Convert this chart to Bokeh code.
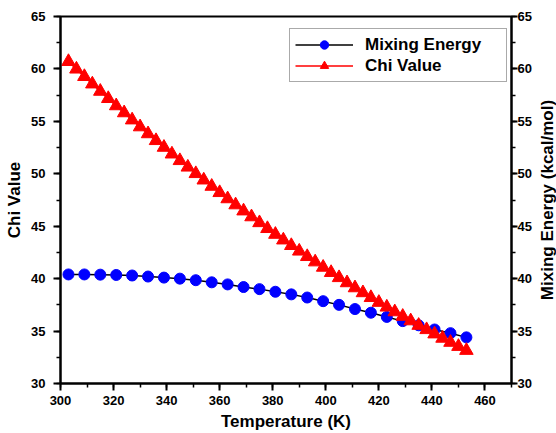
from bokeh.plotting import figure
from bokeh.layouts import row
from bokeh.models import (Range1d, LinearAxis, SingleIntervalTicker, Legend,
                          LegendItem, ColumnDataSource)
from bokeh.embed import file_html
from bokeh.resources import INLINE

# ---------------- data ----------------
temp_chi = [303, 306, 309, 312, 315, 318, 321, 324, 327, 330,
            333, 336, 339, 342, 345, 348, 351, 354, 357, 360,
            363, 366, 369, 372, 375, 378, 381, 384, 387, 390,
            393, 396, 399, 402, 405, 408, 411, 414, 417, 420,
            423, 426, 429, 432, 435, 438, 441, 444, 447, 450, 453]
chi_value = [60.70, 59.98, 59.27, 58.56, 57.86, 57.17, 56.48, 55.81, 55.13, 54.47,
             53.81, 53.16, 52.52, 51.88, 51.25, 50.63, 50.01, 49.40, 48.80, 48.20,
             47.61, 47.03, 46.45, 45.89, 45.33, 44.77, 44.22, 43.68, 43.15, 42.62,
             42.10, 41.59, 41.08, 40.58, 40.09, 39.60, 39.12, 38.65, 38.19, 37.73,
             37.28, 36.83, 36.40, 35.97, 35.54, 35.13, 34.72, 34.31, 33.92, 33.53, 33.15]

temp_mix = [303, 309, 315, 321, 327, 333, 339, 345, 351, 357,
            363, 369, 375, 381, 387, 393, 399, 405, 411, 417,
            423, 429, 435, 441, 447, 453]
mixing_energy = [40.40, 40.40, 40.38, 40.35, 40.30, 40.20, 40.10, 40.00, 39.85, 39.65,
                 39.45, 39.20, 39.00, 38.75, 38.50, 38.20, 37.85, 37.50, 37.10, 36.75,
                 36.35, 35.95, 35.55, 35.15, 34.80, 34.40]

x_label = "Temperature (K)"
y_left_label = "Chi Value"
y_right_label = "Mixing Energy (kcal/mol)"

FONT = "Liberation Sans"

# ---------------- main figure ----------------
p = figure(width=534, height=433, x_range=Range1d(300, 470), y_range=Range1d(30, 65),
           output_backend="svg", toolbar_location=None,
           min_border_left=60, min_border_right=23, min_border_top=16, min_border_bottom=49)
p.extra_y_ranges = {"me": Range1d(30, 65)}
p.xgrid.visible = False
p.ygrid.visible = False
p.outline_line_color = "black"
p.outline_line_width = 2
p.background_fill_color = "white"
p.border_fill_color = "white"

right_axis = LinearAxis(y_range_name="me")
p.add_layout(right_axis, "right")


def style_axis(ax, interval):
    ax.ticker = SingleIntervalTicker(interval=interval, num_minor_ticks=2)
    ax.axis_line_color = "black"
    ax.axis_line_width = 2
    ax.major_tick_line_color = "black"
    ax.major_tick_line_width = 2
    ax.minor_tick_line_color = "black"
    ax.minor_tick_line_width = 1.5
    ax.major_tick_out = 7
    ax.major_tick_in = 0
    ax.minor_tick_out = 4
    ax.minor_tick_in = 0
    ax.major_label_text_font = FONT
    ax.major_label_text_font_style = "bold"
    ax.major_label_text_font_size = "13px"
    ax.major_label_text_color = "black"
    ax.axis_label_text_font = FONT
    ax.axis_label_text_font_style = "bold"
    ax.axis_label_text_font_size = "17px"
    ax.axis_label_text_color = "black"


style_axis(p.xaxis[0], 20)
p.xaxis[0].axis_label = x_label
p.xaxis[0].major_label_standoff = 5
p.xaxis[0].axis_label_standoff = 4

style_axis(p.yaxis[0], 5)
p.yaxis[0].axis_label = y_left_label
p.yaxis[0].major_label_standoff = 8
p.yaxis[0].axis_label_standoff = 4

style_axis(right_axis, 5)
right_axis.major_tick_out = 6
right_axis.major_label_standoff = 0

src_mix = ColumnDataSource(dict(x=temp_mix, y=mixing_energy))
src_chi = ColumnDataSource(dict(x=temp_chi, y=chi_value))

l_mix = p.line("x", "y", source=src_mix, color="black", line_width=1.5, y_range_name="me")
s_mix = p.scatter("x", "y", source=src_mix, marker="circle", size=11,
                  fill_color="blue", line_color="blue", y_range_name="me")
l_chi = p.line("x", "y", source=src_chi, color="red", line_width=1.5)
s_chi = p.scatter("x", "y", source=src_chi, marker="triangle", size=13.5,
                  fill_color="red", line_color="red")

legend = Legend(items=[LegendItem(label="Mixing Energy", renderers=[l_mix, s_mix]),
                       LegendItem(label="Chi Value", renderers=[l_chi, s_chi])],
                location=(229, 301))
legend.label_text_font = FONT
legend.label_text_font_style = "bold"
legend.label_text_font_size = "17px"
legend.label_text_color = "black"
legend.padding = 5
legend.spacing = 0
legend.glyph_width = 58
legend.glyph_height = 21
legend.label_height = 21
legend.label_standoff = 12
legend.label_width = 136
legend.border_line_color = "#555555"
legend.border_line_width = 1
legend.background_fill_color = "white"
legend.background_fill_alpha = 1
legend.margin = 0
p.add_layout(legend, "center")

# ---------------- narrow strip carrying the right-hand axis title ----------------
p2 = figure(width=22, height=433, x_range=Range1d(0, 1), y_range=Range1d(30, 65),
            output_backend="svg", toolbar_location=None,
            min_border_left=20, min_border_right=0, min_border_top=16, min_border_bottom=49)
p2.xaxis.visible = False
p2.xgrid.visible = False
p2.ygrid.visible = False
p2.outline_line_color = None
p2.background_fill_color = "white"
p2.border_fill_color = "white"
ax2 = p2.yaxis[0]
ax2.axis_label = y_right_label
ax2.axis_label_text_font = FONT
ax2.axis_label_text_font_style = "bold"
ax2.axis_label_text_font_size = "17px"
ax2.axis_label_text_color = "black"
ax2.axis_label_standoff = 0
ax2.axis_line_color = None
ax2.major_tick_line_color = None
ax2.minor_tick_line_color = None
ax2.major_tick_out = 0
ax2.minor_tick_out = 0
ax2.major_label_standoff = 0
ax2.major_label_text_font_size = "0px"
ax2.major_label_text_color = None

layout = row(p, p2, spacing=0)

open("out.html", "w").write(file_html(layout, INLINE))
